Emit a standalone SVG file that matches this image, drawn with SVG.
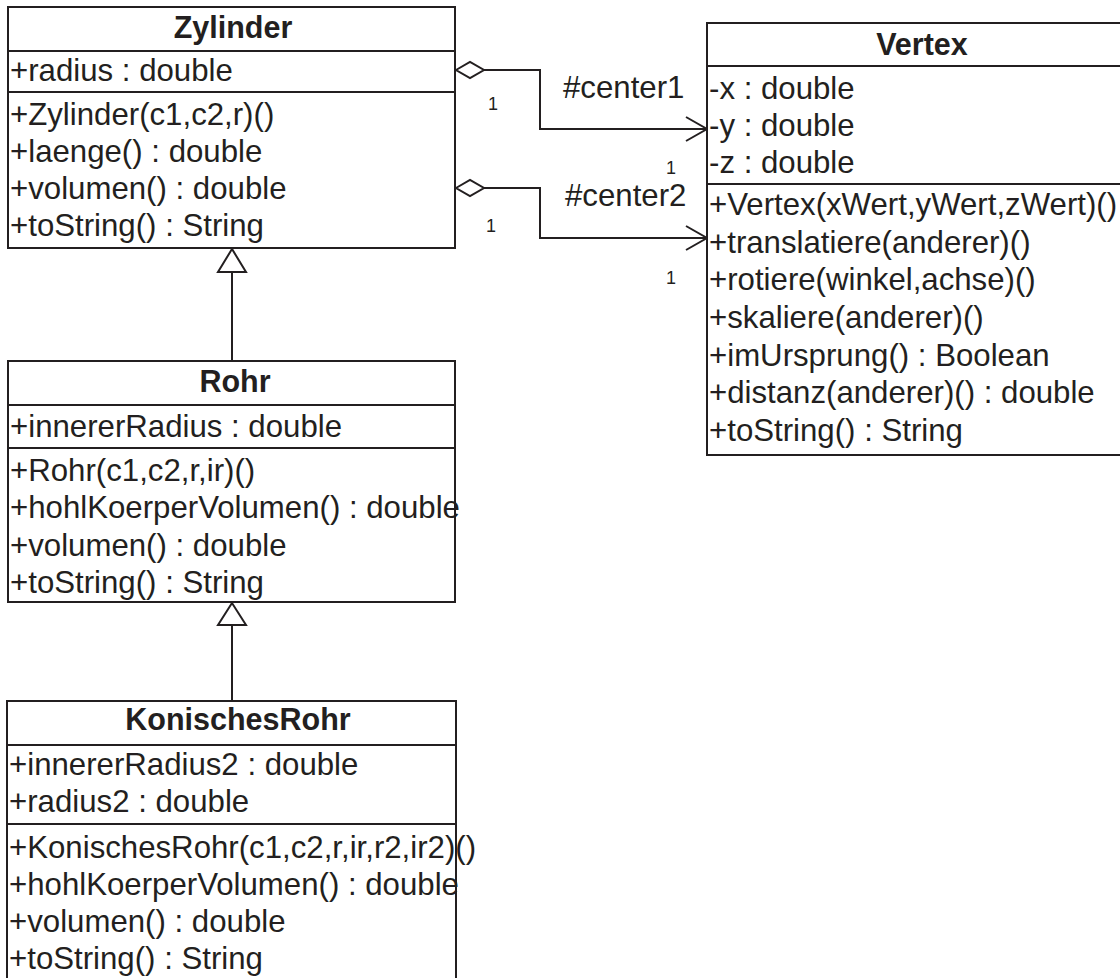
<svg xmlns="http://www.w3.org/2000/svg" width="1120" height="978" viewBox="0 0 1120 978">
<style>
.box{fill:#fff;stroke:#231f20;stroke-width:2}
.sep{stroke:#231f20;stroke-width:2}
.t{font-family:"Liberation Sans",Arial,sans-serif;font-size:31.2px;fill:#231f20}
.h{font-family:"Liberation Sans",Arial,sans-serif;font-size:30.5px;font-weight:bold;fill:#231f20;text-anchor:middle}
.m{font-family:"Liberation Sans",Arial,sans-serif;font-size:18px;fill:#231f20}
.ln{fill:none;stroke:#231f20;stroke-width:2}
.hd{fill:#fff;stroke:#231f20;stroke-width:2}
</style>
<rect width="1120" height="978" fill="#fff"/>
<g id="connectors">
  <polyline class="ln" points="484,70 540,70 540,129 707,129"/>
  <polygon class="hd" points="456,70 470,62 484,70 470,78"/>
  <polyline class="ln" points="686,117 707,129 686,141"/>
  <polyline class="ln" points="484,188 540,188 540,238 707,238"/>
  <polygon class="hd" points="456,188 470,180 484,188 470,196"/>
  <polyline class="ln" points="686,226 707,238 686,250"/>
  <text class="t" x="563" y="98">#center1</text>
  <text class="t" x="565" y="206">#center2</text>
  <text class="m" x="488" y="110">1</text>
  <text class="m" x="666" y="174">1</text>
  <text class="m" x="486" y="232">1</text>
  <text class="m" x="666" y="284">1</text>
  <line class="ln" x1="232" y1="272" x2="232" y2="361"/>
  <polygon class="hd" points="232,249 218,272 246,272"/>
  <line class="ln" x1="232" y1="625" x2="232" y2="701"/>
  <polygon class="hd" points="232,603 218,625 246,625"/>
</g>
<g id="Zylinder">
  <rect class="box" x="8" y="7" width="447" height="241"/>
  <line class="sep" x1="8" y1="51" x2="455" y2="51"/>
  <line class="sep" x1="8" y1="92" x2="455" y2="92"/>
  <text class="h" x="233" y="38">Zylinder</text>
  <text class="t" x="10" y="81">+radius : double</text>
  <text class="t" x="10" y="125">+Zylinder(c1,c2,r)()</text>
  <text class="t" x="10" y="162">+laenge() : double</text>
  <text class="t" x="10" y="199">+volumen() : double</text>
  <text class="t" x="10" y="236">+toString() : String</text>
</g>
<g id="Vertex">
  <rect class="box" x="707" y="23" width="415" height="432"/>
  <line class="sep" x1="707" y1="66" x2="1120" y2="66"/>
  <line class="sep" x1="707" y1="184" x2="1120" y2="184"/>
  <text class="h" x="922" y="55">Vertex</text>
  <text class="t" x="709" y="99">-x : double</text>
  <text class="t" x="709" y="136">-y : double</text>
  <text class="t" x="709" y="173">-z : double</text>
  <text class="t" x="709" y="215">+Vertex(xWert,yWert,zWert)()</text>
  <text class="t" x="709" y="253">+translatiere(anderer)()</text>
  <text class="t" x="709" y="290">+rotiere(winkel,achse)()</text>
  <text class="t" x="709" y="328">+skaliere(anderer)()</text>
  <text class="t" x="709" y="366">+imUrsprung() : Boolean</text>
  <text class="t" x="709" y="403">+distanz(anderer)() : double</text>
  <text class="t" x="709" y="441">+toString() : String</text>
</g>
<g id="Rohr">
  <rect class="box" x="8" y="361" width="447" height="241"/>
  <line class="sep" x1="8" y1="405" x2="455" y2="405"/>
  <line class="sep" x1="8" y1="448" x2="455" y2="448"/>
  <text class="h" x="235" y="392">Rohr</text>
  <text class="t" x="10" y="437">+innererRadius : double</text>
  <text class="t" x="10" y="481">+Rohr(c1,c2,r,ir)()</text>
  <text class="t" x="10" y="518">+hohlKoerperVolumen() : double</text>
  <text class="t" x="10" y="556">+volumen() : double</text>
  <text class="t" x="10" y="593">+toString() : String</text>
</g>
<g id="KonischesRohr">
  <rect class="box" x="7" y="701" width="449" height="300"/>
  <line class="sep" x1="7" y1="745" x2="456" y2="745"/>
  <line class="sep" x1="7" y1="824" x2="456" y2="824"/>
  <text class="h" x="238" y="730">KonischesRohr</text>
  <text class="t" x="9" y="775">+innererRadius2 : double</text>
  <text class="t" x="9" y="812">+radius2 : double</text>
  <text class="t" x="9" y="858">+KonischesRohr(c1,c2,r,ir,r2,ir2)()</text>
  <text class="t" x="9" y="895">+hohlKoerperVolumen() : double</text>
  <text class="t" x="9" y="932">+volumen() : double</text>
  <text class="t" x="9" y="969">+toString() : String</text>
</g>
</svg>
